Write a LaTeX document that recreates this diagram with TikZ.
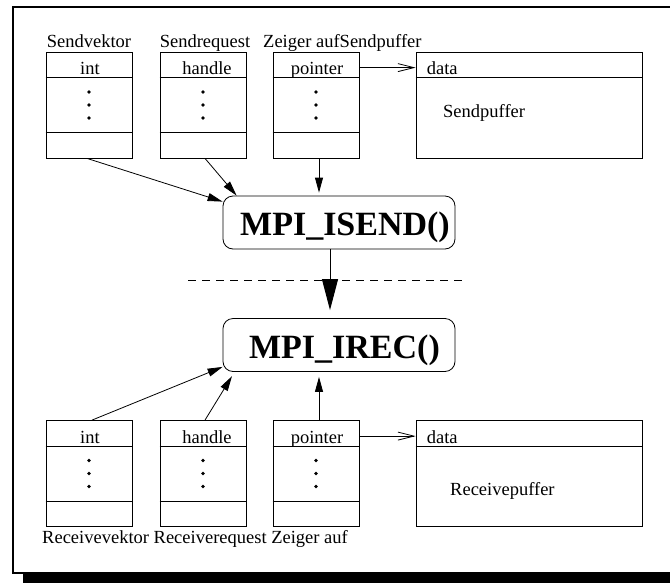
\documentclass[tikz,border=0pt]{standalone}
\usepackage{fontspec}
\setmainfont{Liberation Serif}
\usetikzlibrary{arrows.meta,calc}

\begin{document}
\begin{tikzpicture}[x=1pt,y=-1pt,
  cell/.style={draw, line width=0.8pt, inner sep=0pt, minimum width=86pt, minimum height=106pt},
  buf/.style={cell, minimum width=226pt},
  call/.style={draw, line width=0.8pt, rounded corners=10pt, minimum width=232pt,
    minimum height=53pt, inner sep=0pt, text height=26pt, text depth=0pt,
    font=\fontsize{34}{36}\selectfont\bfseries},
  lbl/.style={font=\fontsize{18.5}{20}\selectfont, inner sep=0pt},
  feed/.style={-{Triangle[length=15pt,width=8pt]}, line width=0.8pt},
  flow/.style={-{Triangle[length=31pt,width=16pt]}, line width=1pt},
  ptr/.style={-{Straight Barb[length=16pt,width=8pt]}, line width=0.8pt},
]
\useasboundingbox (0,0) rectangle (670,582);
\clip (0,0) rectangle (670,582);

% frame with drop shadow
\fill (23,17) rectangle (700,600);
\draw[line width=2.5pt, fill=white] (13,7) rectangle (690,573);

% sender side
\node[cell] (sv) at (89,105) {};
\node[cell] (sr) at (203,105) {};
\node[cell] (sp) at (316,105) {};
\node[buf]  (sb) at (529,105) {};

% receiver side
\node[cell] (rv) at (89,473.5) {};
\node[cell] (rr) at (203,473.5) {};
\node[cell] (rp) at (316,473.5) {};
\node[buf]  (rb) at (529,473.5) {};

% compartments and ellipsis dots
\foreach \b in {sv,sr,sp,rv,rr,rp} {
  \draw[line width=0.8pt] ($(\b.north west)+(0,26)$) -- ($(\b.north east)+(0,26)$);
  \draw[line width=0.8pt] ($(\b.south west)+(0,-26)$) -- ($(\b.south east)+(0,-26)$);
  \foreach \d in {-13,0,13}
    \fill ($(\b.center)+(0,\d)$) circle[radius=1.9pt];
}
\foreach \b in {sb,rb}
  \draw[line width=0.8pt] ($(\b.north west)+(0,26)$) -- ($(\b.north east)+(0,26)$);

% compartment headers
\node[lbl, anchor=base] (svh) at ($(sv.north)+(1,23)$) {int};
\node[lbl, anchor=base] (srh) at ($(sr.north)+(4,23)$) {handle};
\node[lbl, anchor=base] (sph) at ($(sp.north)+(1,23)$) {pointer};
\node[lbl, anchor=base west] (sbh) at ($(sb.north west)+(11,23)$) {data};
\node[lbl, anchor=base] (rvh) at ($(rv.north)+(1,23)$) {int};
\node[lbl, anchor=base] (rrh) at ($(rr.north)+(4,23)$) {handle};
\node[lbl, anchor=base] (rph) at ($(rp.north)+(1,23)$) {pointer};
\node[lbl, anchor=base west] (rbh) at ($(rb.north west)+(11,23)$) {data};

\node[lbl, anchor=base west] (sbt) at (443,117) {Sendpuffer};
\node[lbl, anchor=base west] (rbt) at (450,495) {Receivepuffer};

% captions
\node[lbl, anchor=base] (svl) at (89,47) {Sendvektor};
\node[lbl, anchor=base] (srl) at (205,47) {Sendrequest};
\node[lbl, anchor=base west] (spl) at (263,47) {Zeiger aufSendpuffer};
\node[lbl, anchor=base west] (rl) at (42,543) {Receivevektor Receiverequest Zeiger auf};

% calls
\node[call] (isend) at (339,222.5) {\hspace*{12pt}MPI\_ISEND()};
\node[call] (irec) at (339,345) {\hspace*{11pt}MPI\_IREC()};

% separator
\draw[line width=0.8pt, dash pattern=on 8pt off 6pt] (188,280) -- (466,280);

% pointers to buffers
\draw[ptr] ($(sp.north east)+(0,16)$) -- ($(sb.north west)+(0,16)$);
\draw[ptr] ($(rp.north east)+(0,16)$) -- ($(rb.north west)+(0,16)$);

% arguments into MPI_ISEND
\draw[feed] ($(sv.south)+(-2,0)$) -- ($(isend.north west)+(0,6)$);
\draw[feed] ($(sr.south)+(2,0)$) -- ($(isend.north west)+(14,0)$);
\coordinate (spo) at ($(sp.south)+(3,0)$);
\draw[feed, shorten >=3pt] (spo) -- (spo |- isend.north);

% transfer
\coordinate (ft) at ($(isend.south)+(-9,0)$);
\draw[flow, shorten >=8pt] (ft) -- (ft |- irec.north);

% arguments into MPI_IREC
\draw[feed] ($(rv.north)+(3,0)$) -- ($(irec.south west)+(0,-5)$);
\draw[feed, shorten >=5pt] ($(rr.north)+(2,0)$) -- ($(irec.south west)+(12,0)$);
\coordinate (rpo) at ($(rp.north)+(3,0)$);
\draw[feed, shorten >=5pt] (rpo) -- (rpo |- irec.south);
\end{tikzpicture}
\end{document}
